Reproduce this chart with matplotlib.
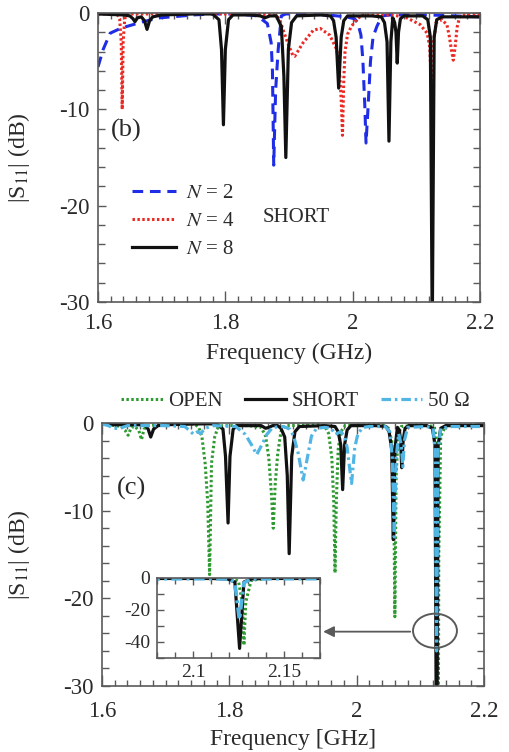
import matplotlib
matplotlib.use("Agg")
import matplotlib.pyplot as plt
from matplotlib.patches import Ellipse
from matplotlib.ticker import MultipleLocator

plt.rcParams['font.family'] = ['Liberation Serif', 'DejaVu Serif']
plt.rcParams['mathtext.fontset'] = 'stix'

# ---- panel (b): SHORT, different N ----
b_f2 = [1.600, 1.608, 1.619, 1.632, 1.645, 1.671, 1.697, 1.725, 1.750, 1.780, 1.820, 1.850,
        1.860, 1.866, 1.872, 1.874, 1.876, 1.879, 1.883, 1.888, 1.895, 1.930, 1.960, 1.990,
        2.003, 2.008, 2.013, 2.016, 2.019, 2.021, 2.024, 2.028, 2.032, 2.038, 2.046, 2.060,
        2.080, 2.120, 2.160, 2.200]
b_s2 = [-5.6, -3.8, -2.1, -1.7, -1.4, -0.9, -0.5, -0.35, -0.2, -0.1, -0.1, -0.3,
        -0.8, -1.1, -3.1, -6.0, -15.8, -8.0, -3.8, -0.3, -0.1, -0.1, -0.2, -0.4,
        -0.6, -1.0, -2.3, -4.9, -9.5, -13.5, -10.0, -5.0, -2.5, -1.4, -0.3, -0.2,
        -0.2, -0.2, -0.3, -0.4]

b_f4 = [1.600, 1.630, 1.634, 1.6365, 1.638, 1.6395, 1.642, 1.646, 1.700, 1.750, 1.800, 1.850,
        1.875, 1.881, 1.886, 1.891, 1.898, 1.906, 1.909, 1.922, 1.938, 1.949, 1.964, 1.975,
        1.979, 1.982, 1.984, 1.986, 1.988, 1.992, 1.998, 2.006, 2.015, 2.063, 2.085, 2.106,
        2.117, 2.121, 2.124, 2.127, 2.131, 2.140, 2.148, 2.152, 2.155, 2.158, 2.161, 2.164,
        2.168, 2.175, 2.200]
b_s4 = [-0.1, -0.1, -0.6, -3.0, -10.0, -3.0, -0.6, -0.1, -0.1, 0.0, -0.1, -0.1,
        -0.2, -0.3, -0.8, -1.8, -3.1, -4.4, -4.5, -3.1, -1.8, -1.6, -2.3, -3.8,
        -5.6, -9.0, -12.7, -7.0, -4.0, -2.2, -1.4, -0.7, -0.2, -0.2, -0.5, -1.2,
        -2.1, -3.5, -8.0, -3.0, -1.0, -0.7, -1.2, -2.5, -3.8, -4.9, -3.5, -1.5,
        -0.4, -0.2, -0.2]

b_f8 = [1.600, 1.620, 1.640, 1.650, 1.655, 1.658, 1.662, 1.668, 1.673, 1.677, 1.681, 1.686,
        1.700, 1.750, 1.780, 1.790, 1.794, 1.797, 1.800, 1.805, 1.812, 1.840, 1.855, 1.862,
        1.870, 1.880, 1.888, 1.892, 1.895, 1.899, 1.904, 1.912, 1.950, 1.965, 1.970, 1.974,
        1.978, 1.982, 1.986, 1.992, 2.030, 2.045, 2.050, 2.054, 2.057, 2.060, 2.063, 2.066,
        2.068, 2.070, 2.072, 2.075, 2.080, 2.110, 2.118, 2.122, 2.125, 2.128, 2.132, 2.140,
        2.200]
b_s8 = [-0.1, -0.15, -0.2, -0.3, -0.6, -0.9, -0.5, -0.4, -0.8, -1.7, -0.8, -0.4,
        -0.2, -0.1, -0.1, -0.7, -3.8, -11.6, -3.8, -0.7, -0.2, -0.2, -0.3, -0.5,
        -0.3, -0.3, -1.4, -6.6, -15.0, -3.8, -1.0, -0.3, -0.2, -0.3, -0.8, -2.5,
        -7.8, -2.5, -0.8, -0.3, -0.3, -0.4, -1.0, -3.0, -13.3, -3.0, -0.5, -1.0,
        -2.0, -5.2, -2.0, -0.6, -0.3, -0.3, -0.7, -2.5, -33.0, -2.5, -0.7, -0.4,
        -0.4]

# ---- panel (c): N = 8, different terminations ----
c_f_open = [1.600, 1.620, 1.630, 1.636, 1.641, 1.646, 1.652, 1.658, 1.662, 1.666, 1.672, 1.700,
            1.745, 1.752, 1.757, 1.762, 1.766, 1.769, 1.772, 1.777, 1.782, 1.790, 1.830, 1.850,
            1.857, 1.862, 1.866, 1.869, 1.872, 1.876, 1.881, 1.888, 1.940, 1.950, 1.956, 1.961,
            1.964, 1.966, 1.968, 1.971, 1.975, 1.982, 2.040, 2.050, 2.055, 2.058, 2.060, 2.062,
            2.065, 2.070, 2.100, 2.122, 2.125, 2.127, 2.128, 2.129, 2.132, 2.140, 2.200]
c_s_open = [-0.1, -0.3, -0.4, -0.8, -1.4, -0.5, -0.4, -0.9, -1.9, -0.7, -0.3, -0.1,
            -0.1, -0.5, -1.6, -4.6, -9.0, -17.3, -4.6, -1.6, -0.5, -0.3, -0.3, -0.5,
            -1.5, -4.0, -8.0, -12.0, -7.0, -3.5, -1.0, -0.3, -0.2, -0.4, -1.2, -4.0,
            -9.0, -17.1, -9.0, -3.0, -1.0, -0.3, -0.2, -0.6, -2.0, -6.0, -22.1, -6.0,
            -1.5, -0.4, -0.2, -0.4, -2.0, -15.0, -42.0, -15.0, -1.5, -0.3, -0.2]

c_f_short = [1.600, 1.620, 1.640, 1.660, 1.668, 1.6725, 1.6765, 1.681, 1.688, 1.700, 1.750, 1.780,
             1.790, 1.794, 1.798, 1.801, 1.806, 1.812, 1.850, 1.857, 1.862, 1.868, 1.876, 1.881,
             1.887, 1.891, 1.894, 1.898, 1.903, 1.910, 1.950, 1.966, 1.971, 1.975, 1.978, 1.981,
             1.985, 1.991, 2.030, 2.046, 2.051, 2.055, 2.0576, 2.060, 2.064, 2.067, 2.069, 2.0708,
             2.073, 2.076, 2.082, 2.110, 2.119, 2.123, 2.1256, 2.128, 2.132, 2.140, 2.200]
c_s_short = [-0.1, -0.2, -0.2, -0.2, -0.3, -0.7, -1.6, -0.7, -0.3, -0.2, -0.1, -0.1,
             -0.7, -3.8, -11.4, -3.8, -0.7, -0.3, -0.3, -0.6, -0.5, -0.3, -0.3, -0.6,
             -1.6, -6.0, -14.9, -3.8, -1.0, -0.4, -0.3, -0.4, -1.0, -2.5, -7.6, -2.5,
             -0.8, -0.3, -0.3, -0.4, -1.0, -3.0, -13.3, -3.0, -0.5, -0.8, -2.0, -5.1,
             -2.0, -0.6, -0.3, -0.3, -0.6, -2.5, -44.0, -2.5, -0.6, -0.3, -0.3]

c_f_50 = [1.600, 1.610, 1.618, 1.628, 1.640, 1.700, 1.730, 1.738, 1.744, 1.750, 1.755, 1.762,
          1.775, 1.810, 1.825, 1.835, 1.843, 1.851, 1.859, 1.868, 1.885, 1.895, 1.901, 1.908,
          1.916, 1.924, 1.929, 1.937, 1.950, 1.960, 1.966, 1.975, 1.981, 1.985, 1.992, 1.997,
          2.002, 2.010, 2.020, 2.045, 2.052, 2.056, 2.059, 2.062, 2.066, 2.070, 2.0725, 2.075,
          2.080, 2.110, 2.120, 2.123, 2.1255, 2.128, 2.132, 2.150, 2.200]
c_s_50 = [-0.1, -0.3, -0.6, -0.6, -0.3, -0.3, -0.4, -0.9, -1.3, -1.0, -1.2, -0.6,
          -0.3, -0.4, -1.3, -2.5, -3.6, -2.5, -1.3, -0.5, -0.4, -0.7, -1.5, -3.4,
          -6.5, -3.4, -1.5, -0.6, -0.5, -0.6, -1.3, -1.0, -1.5, -2.8, -6.9, -2.8,
          -1.2, -0.5, -0.4, -0.4, -1.0, -4.0, -13.0, -4.0, -1.2, -2.5, -5.0, -2.0,
          -0.5, -0.4, -0.6, -3.0, -26.0, -3.0, -0.6, -0.4, -0.4]

x_ticks = [1.6, 1.8, 2.0, 2.2]
x_ticklabels = ['1.6', '1.8', '2', '2.2']
y_ticks = [-30, -20, -10, 0]
y_ticklabels = ['-30', '-20', '-10', '0']
in_x_ticks = [2.1, 2.15]
in_x_ticklabels = ['2.1', '2.15']
in_y_ticks = [-40, -20, 0]
in_y_ticklabels = ['-40', '-20', '0']

BLUE = '#1f2de6'
RED = '#ea2a24'
BLACK = '#111111'
GREEN = '#2f9a32'
CYAN = '#52b6e4'
AXC = '#5a5a5a'
TXT = '#2a2a2a'


def style_axes(ax, size=16.5):
    for s in ax.spines.values():
        s.set_color(AXC)
        s.set_linewidth(1.2)
    ax.tick_params(which='both', direction='in', top=True, right=True,
                   colors=AXC, labelcolor=TXT, labelsize=size, width=1.0)
    ax.tick_params(axis='x', which='major', length=8)
    ax.tick_params(axis='x', which='minor', length=4.5)
    ax.tick_params(axis='y', which='major', length=5.5, pad=6)
    ax.tick_params(axis='y', which='minor', length=5)


def main_axes(ax):
    ax.set_xlim(1.6, 2.2)
    ax.set_ylim(-30, 0)
    ax.set_xticks(x_ticks)
    ax.set_xticklabels(x_ticklabels)
    ax.set_yticks(y_ticks)
    ax.set_yticklabels(y_ticklabels)
    ax.xaxis.set_minor_locator(MultipleLocator(0.02))
    ax.yaxis.set_minor_locator(MultipleLocator(2))
    style_axes(ax)


fig = plt.figure(figsize=(5.1, 7.52), dpi=100)

# panel (b)
ax_b = fig.add_axes([98 / 510, 1 - 302 / 752, 382 / 510, 289 / 752])
ax_b.plot(b_f2, b_s2, color=BLUE, lw=2.2, dashes=(3.5, 2.2), label='$N$ = 2')
ax_b.plot(b_f4, b_s4, color=RED, lw=2.2, dashes=(0.8, 0.8), label='$N$ = 4')
ax_b.plot(b_f8, b_s8, color=BLACK, lw=2.3, label='$N$ = 8')
main_axes(ax_b)
ax_b.tick_params(axis='x', which='major', pad=8)
ax_b.set_xlabel('Frequency (GHz)', fontsize=17, color=TXT, labelpad=6)
ax_b.set_ylabel('|S$_{11}$| (dB)', fontsize=17, color=TXT)
ax_b.yaxis.set_label_coords(-0.172, 0.5)
ax_b.text(0.073, 0.592, '(b)', transform=ax_b.transAxes, fontsize=19,
          color=TXT, ha='center', va='center')
ax_b.text(0.432, 0.291, 'SHORT', transform=ax_b.transAxes, fontsize=15,
          color=TXT, ha='left', va='center')
ax_b.legend(loc='upper left', bbox_to_anchor=(0.09, 0.41), frameon=False,
            fontsize=15, handlelength=2.1, handletextpad=0.45, labelspacing=0.4,
            borderpad=0, borderaxespad=0, labelcolor=TXT)

# panel (c)
ax_c = fig.add_axes([102 / 510, 1 - 686 / 752, 382 / 510, 263 / 752])
ax_c.plot(c_f_open, c_s_open, color=GREEN, lw=2.2, dashes=(0.8, 0.8), label='OPEN')
ax_c.plot(c_f_short, c_s_short, color=BLACK, lw=2.3, label='SHORT')
ax_c.plot(c_f_50, c_s_50, color=CYAN, lw=2.3, dashes=(3.0, 1.2, 0.8, 1.2), label='50 Ω')
main_axes(ax_c)
ax_c.tick_params(axis='x', which='major', pad=11)
ax_c.set_xlabel('Frequency [GHz]', fontsize=17, color=TXT, labelpad=5)
ax_c.set_ylabel('|S$_{11}$| (dB)', fontsize=17, color=TXT)
ax_c.yaxis.set_label_coords(-0.183, 0.5)
ax_c.text(0.076, 0.753, '(c)', transform=ax_c.transAxes, fontsize=19,
          color=TXT, ha='center', va='center')
ax_c.legend(loc='lower left', bbox_to_anchor=(0.04, 1.03), ncol=3, frameon=False,
            fontsize=15, handlelength=2.0, handletextpad=0.25, columnspacing=1.05,
            borderpad=0.1, borderaxespad=0.1, labelcolor=TXT)

# zoom marker and arrow
ax_c.add_patch(Ellipse((2.123, -23.7), 0.069, 3.9, fill=False, edgecolor=AXC, lw=1.4, zorder=5))
ax_c.annotate('', xy=(1.943, -23.8), xytext=(2.0885, -23.8),
              arrowprops=dict(arrowstyle='-|>', color=AXC, lw=1.3, mutation_scale=16))

# inset
ax_in = fig.add_axes([157 / 510, 1 - 658 / 752, 163 / 510, 80 / 752])
ax_in.plot(c_f_open, c_s_open, color=GREEN, lw=2.2, dashes=(0.8, 0.8))
ax_in.plot(c_f_short, c_s_short, color=BLACK, lw=2.3)
ax_in.plot(c_f_50, c_s_50, color=CYAN, lw=2.6, dashes=(3.0, 1.2, 0.8, 1.2))
ax_in.set_xlim(2.08, 2.17)
ax_in.set_ylim(-50, 0)
ax_in.set_xticks(in_x_ticks)
ax_in.set_xticklabels(in_x_ticklabels)
ax_in.set_yticks(in_y_ticks)
ax_in.set_yticklabels(in_y_ticklabels)
ax_in.xaxis.set_minor_locator(MultipleLocator(0.01))
ax_in.yaxis.set_minor_locator(MultipleLocator(10))
style_axes(ax_in, size=14)
ax_in.tick_params(axis='x', which='major', length=5, pad=4)
ax_in.tick_params(axis='x', which='minor', length=4)
ax_in.tick_params(axis='y', which='both', length=5, pad=5)

fig.savefig('out.png', dpi=100)
